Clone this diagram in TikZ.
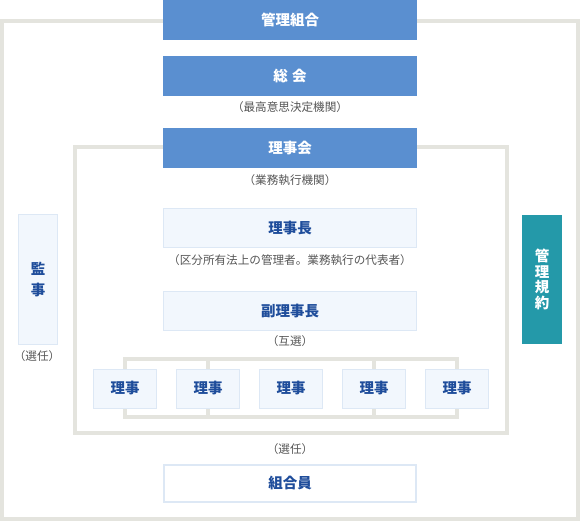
\documentclass[tikz,border=0pt]{standalone}
\usepackage{fontspec}
\newfontfamily\jp{Noto Sans CJK JP}
\usetikzlibrary{backgrounds}
\definecolor{hdblue}{HTML}{5A8FD0}
\definecolor{teal}{HTML}{2499A9}
\definecolor{paleblue}{HTML}{F2F7FD}
\definecolor{paleline}{HTML}{DDE8F5}
\definecolor{framegray}{HTML}{E4E4DE}
\definecolor{navy}{HTML}{1F4D9B}
\definecolor{notegray}{HTML}{555555}
\tikzset{
  headbox/.style={rectangle, fill=hdblue, text=white, minimum width=254pt, minimum height=40pt, inner sep=0pt, font=\jp\bfseries\fontsize{14.5}{16}\selectfont},
  palebox/.style={rectangle, fill=paleblue, draw=paleline, line width=1pt, text=navy, minimum height=39pt, inner sep=0pt, font=\jp\bfseries\fontsize{14.5}{16}\selectfont},
  memberbox/.style={rectangle, fill=white, draw=paleline, line width=2pt, text=navy, minimum width=252pt, minimum height=37pt, inner sep=0pt, font=\jp\bfseries\fontsize{14.5}{16}\selectfont},
  note/.style={text=notegray, inner sep=0pt, font=\jp\fontsize{11.6}{13}\selectfont},
  frame/.style={draw=framegray, line width=4pt},
  bracket/.style={draw=framegray, line width=4pt},
}
\begin{document}
\begin{tikzpicture}[x=1pt,y=-1pt]
\useasboundingbox (0,0) rectangle (580,521);
% frames
\draw[frame] (2,21) rectangle (578,519);
\draw[frame] (75,147) rectangle (507,433);
% header boxes
\node[headbox] (kumiai) at (290,20) {管理組合};
\node[headbox] (sokai) at (290,76) {総\hspace{0.3em}会};
\node[note] (sokainote) at (290,107) {（最高意思決定機関）};
\node[headbox] (rijikai) at (290,148) {理事会};
\node[note] (rijikainote) at (290,180) {（業務執行機関）};
\node[palebox, minimum width=253pt] (rijicho) at (290,228) {理事長};
\node[note] (rijichonote) at (290,260) {（区分所有法上の管理者。業務執行の代表者）};
\node[palebox, minimum width=253pt] (fuku) at (290,311) {副理事長};
\node[note] (fukunote) at (290,341.5) {（互選）};
% side boxes
\node[palebox, minimum width=39pt, minimum height=129pt, align=center] (kanji) at (38,279.5) {監\\[5pt]事};
\node[note] (kanjinote) at (37,356.5) {（選任）};
\node[rectangle, fill=teal, text=white, minimum width=40pt, minimum height=129pt, inner sep=0pt, align=center, font=\jp\bfseries\fontsize{14.5}{15.5}\selectfont] (kiyaku) at (542,279.5) {管\\理\\規\\約};
% directors
\foreach \i/\x in {1/125,2/208,3/291,4/374,5/457}{
  \node[palebox, minimum width=63pt] (r\i) at (\x,388.5) {理事};
}
\coordinate (top) at (290,359);
\coordinate (bot) at (290,417);
\begin{scope}[on background layer]
  \draw[bracket] (r1.center) -- (r1 |- top) -- (r5 |- top) -- (r5.center);
  \draw[bracket] (r2 |- top) -- (r2.center);
  \draw[bracket] (r4 |- top) -- (r4.center);
  \draw[bracket] (r1.center) -- (r1 |- bot) -- (r5 |- bot) -- (r5.center);
  \draw[bracket] (r2 |- bot) -- (r2.center);
  \draw[bracket] (r4 |- bot) -- (r4.center);
\end{scope}
\node[note] (membernote) at (290,449.5) {（選任）};
\node[memberbox] (member) at (290,483) {組合員};
\end{tikzpicture}
\end{document}
